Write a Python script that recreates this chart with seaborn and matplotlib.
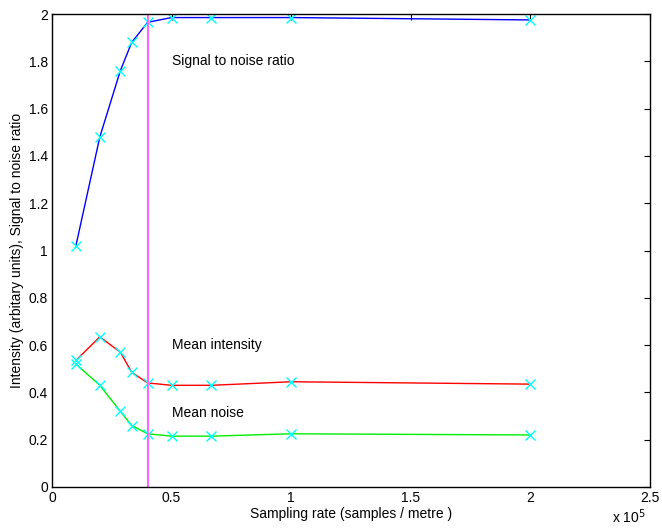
import numpy as np
import pandas as pd
import matplotlib
matplotlib.use("Agg")
import matplotlib.pyplot as plt
import seaborn as sns

# sampling rate in units of 1e5 samples / metre
sampling_rate = [0.1, 0.2, 0.2857, 0.3333, 0.4, 0.5, 0.6667, 1.0, 2.0]
snr = [1.02, 1.48, 1.76, 1.88, 1.965, 1.985, 1.985, 1.985, 1.975]
mean_intensity = [0.535, 0.635, 0.57, 0.485, 0.44, 0.43, 0.43, 0.445, 0.435]
mean_noise = [0.52, 0.43, 0.32, 0.26, 0.225, 0.215, 0.215, 0.225, 0.22]
chosen_rate = 0.4

df = pd.DataFrame({"rate": sampling_rate, "snr": snr,
                   "intensity": mean_intensity, "noise": mean_noise})

sns.set_style("white")
plt.rcParams['font.family'] = ['Liberation Sans', 'DejaVu Sans']
for key in ['text.color', 'axes.labelcolor', 'xtick.color', 'ytick.color']:
    plt.rcParams[key] = 'black'

fig = plt.figure(figsize=(6.62, 5.29), dpi=100)
ax = fig.add_axes([0.0785, 0.0794, 0.9035, 0.8941])

style = dict(marker='x', markeredgecolor='cyan', markersize=6.5, markeredgewidth=1.0, linewidth=1.0)
sns.lineplot(data=df, x="rate", y="snr", color='blue', ax=ax, **style)
sns.lineplot(data=df, x="rate", y="intensity", color='red', ax=ax, **style)
sns.lineplot(data=df, x="rate", y="noise", color='#00ee00', ax=ax, **style)
ax.axvline(chosen_rate, color='#ff66ff', linewidth=1.5)

ax.text(0.5, 1.8, "Signal to noise ratio", fontsize=10, va='center')
ax.text(0.5, 0.6, "Mean intensity", fontsize=10, va='center')
ax.text(0.5, 0.315, "Mean noise", fontsize=10, va='center')

ax.set_xlim(0, 2.5)
ax.set_ylim(0, 2)
ax.set_xticks(np.arange(0, 2.51, 0.5))
ax.set_yticks(np.arange(0, 2.01, 0.2))
ax.set_xticklabels(["0", "0.5", "1", "1.5", "2", "2.5"])
ax.set_yticklabels(["0", "0.2", "0.4", "0.6", "0.8", "1", "1.2", "1.4", "1.6", "1.8", "2"])
ax.tick_params(direction='in', top=True, right=True, length=4, width=0.8, labelsize=10, pad=3)
for s in ax.spines.values():
    s.set_color('black')
    s.set_linewidth(1.0)

ax.set_xlabel("Sampling rate (samples / metre )", fontsize=10, labelpad=1)
ax.set_ylabel("Intensity (arbitary units), Signal to noise ratio", fontsize=10, labelpad=3)
fig.text(0.925, 0.012, r"x 10$^5$", fontsize=10)

fig.savefig("out.png", dpi=100)
